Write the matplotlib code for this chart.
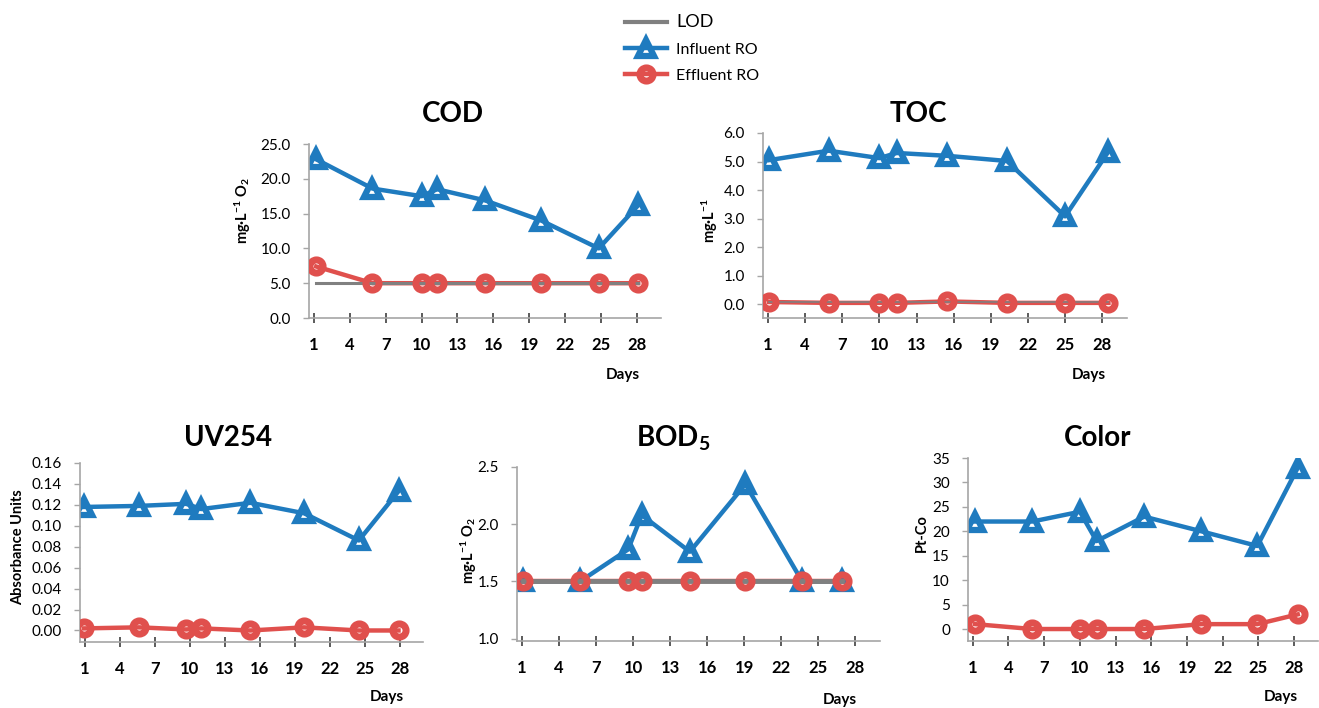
import matplotlib
matplotlib.use("Agg")
import matplotlib.pyplot as plt
from matplotlib.lines import Line2D

plt.rcParams['font.family'] = ['Lato', 'DejaVu Sans']
plt.rcParams['mathtext.fontset'] = 'custom'
plt.rcParams['mathtext.rm'] = 'Lato:bold'
plt.rcParams['mathtext.bf'] = 'Lato:bold'
plt.rcParams['mathtext.it'] = 'Lato:bold'
plt.rcParams['mathtext.default'] = 'bf'

# data
day_ticks = [1, 4, 7, 10, 13, 16, 19, 22, 25, 28]

cod_days = [1.2, 5.9, 10.0, 11.3, 15.3, 20.0, 24.8, 28.1]
cod_influent = [22.8, 18.6, 17.5, 18.5, 16.9, 14.0, 10.0, 16.2]
cod_effluent = [7.4, 5.0, 5.0, 5.0, 5.0, 5.0, 5.0, 5.0]
cod_lod = 5.0

toc_days = [1.1, 5.9, 10.0, 11.4, 15.5, 20.3, 25.0, 28.5]
toc_influent = [5.05, 5.38, 5.12, 5.30, 5.20, 5.02, 3.08, 5.35]
toc_effluent = [0.08, 0.05, 0.05, 0.05, 0.10, 0.05, 0.05, 0.05]
toc_lod = 0.07

uv_days = [0.95, 5.65, 9.7, 11.0, 15.2, 19.8, 24.5, 27.9]
uv_influent = [0.118, 0.119, 0.121, 0.116, 0.122, 0.112, 0.086, 0.133]
uv_effluent = [0.002, 0.003, 0.001, 0.002, 0.000, 0.003, 0.000, 0.000]

bod_days = [1.1, 5.7, 9.6, 10.7, 14.6, 19.1, 23.7, 26.9]
bod_influent = [1.5, 1.5, 1.78, 2.08, 1.76, 2.35, 1.5, 1.5]
bod_effluent = [1.5, 1.5, 1.5, 1.5, 1.5, 1.5, 1.5, 1.5]
bod_lod = 1.5

color_days = [1.2, 6.0, 10.0, 11.4, 15.4, 20.2, 24.9, 28.3]
color_influent = [22, 22, 24, 18, 23, 20, 17, 33]
color_effluent = [1, 0, 0, 0, 0, 1, 1, 3]

BLUE = '#1f7bbf'
RED = '#e0504d'
GRAY = '#808080'
SPINE = '#a6a6a6'

TRI = dict(marker='^', ms=11.5, mfc='none', mec=BLUE, mew=4.5)
CIRC = dict(marker='o', ms=9.5, mfc='none', mec=RED, mew=5)

W, H = 1319, 708
fig = plt.figure(figsize=(W / 100, H / 100), dpi=100)


def px(x, y):
    return x / W, 1 - y / H


def panel(box, days, influent, effluent, lod, lod_lw, yticks, ylim, yfmt,
          title, title_xy, ylabel, ylabel_xy, days_xy):
    left, top, right, bottom = box
    ax = fig.add_axes([left / W, 1 - bottom / H, (right - left) / W, (bottom - top) / H])
    ax.plot(days, influent, color=BLUE, lw=3.2, zorder=2, **TRI)
    ax.plot(days, effluent, color=RED, lw=3.2, zorder=3)
    if lod is not None:
        ax.plot([days[0], days[-1]], [lod, lod], color=GRAY, lw=lod_lw, zorder=4)
    ax.plot(days, effluent, color=RED, lw=0, zorder=5, **CIRC)

    ax.set_xlim(0.6, 30)
    ax.set_ylim(*ylim)
    ax.set_xticks(day_ticks)
    ax.set_xticklabels([str(d) for d in day_ticks], fontsize=12, fontweight='bold')
    ax.set_yticks(yticks)
    ax.set_yticklabels([yfmt.format(v) for v in yticks], fontsize=11)
    for s in ['top', 'right']:
        ax.spines[s].set_visible(False)
    for s in ['left', 'bottom']:
        ax.spines[s].set_color(SPINE)
        ax.spines[s].set_linewidth(1.2)
    ax.tick_params(axis='x', direction='inout', length=7, width=1.2,
                   color='#404040', pad=10)
    ax.tick_params(axis='y', direction='out', length=4, width=1,
                   color=SPINE, pad=9)
    ax.patch.set_alpha(0)

    fig.text(*px(*title_xy), title, fontsize=20, fontweight='bold',
             ha='center', va='center')
    fig.text(*px(*ylabel_xy), ylabel, fontsize=10.5, fontweight='bold',
             rotation=90, ha='center', va='center')
    fig.text(*px(*days_xy), 'Days', fontsize=11, fontweight='bold',
             ha='center', va='center')
    return ax


panel((309, 144, 661, 318), cod_days, cod_influent, cod_effluent, cod_lod, 2.2,
      [0, 5, 10, 15, 20, 25], (0, 25), '{:.1f}',
      'COD', (453, 114), r'mg·L$^{-1}$ O$_2$', (243, 210), (623, 375))

panel((763, 133, 1127, 318), toc_days, toc_influent, toc_effluent, toc_lod, 1.2,
      [0, 1, 2, 3, 4, 5, 6], (-0.48, 6), '{:.1f}',
      'TOC', (918, 114), r'mg·L$^{-1}$', (710, 220), (1089, 375))

panel((80, 463, 423, 642), uv_days, uv_influent, uv_effluent, None, 0,
      [0, 0.02, 0.04, 0.06, 0.08, 0.10, 0.12, 0.14, 0.16], (-0.011, 0.16), '{:.2f}',
      'UV254', (228, 438), 'Absorbance Units', (18, 547), (387, 697))

panel((517, 467, 880, 641), bod_days, bod_influent, bod_effluent, bod_lod, 3.5,
      [1.0, 1.5, 2.0, 2.5], (0.98, 2.5), '{:.1f}',
      r'BOD$_5$', (673, 438), r'mg·L$^{-1}$ O$_2$', (469, 550), (840, 700))

panel((968, 458, 1318, 641), color_days, color_influent, color_effluent, None, 0,
      [0, 5, 10, 15, 20, 25, 30, 35], (-2.45, 35), '{:d}',
      'Color', (1098, 438), 'Pt-Co', (922, 533), (1281, 697))

handles = [
    Line2D([0], [0], color=GRAY, lw=3),
    Line2D([0], [0], color=BLUE, lw=3.2, **TRI),
    Line2D([0], [0], color=RED, lw=3.2, **CIRC),
]
leg = fig.legend(handles, ['LOD', 'Influent RO', 'Effluent RO'], loc='upper center',
                 bbox_to_anchor=(0.525, 1.0), frameon=False, fontsize=11.5,
                 handlelength=2.6, labelspacing=0.75, handletextpad=0.6)
leg.get_texts()[0].set_fontsize(13)

fig.savefig('out.png', dpi=100)
